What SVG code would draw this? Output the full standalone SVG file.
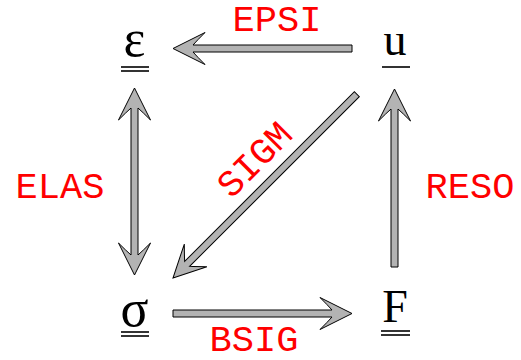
<svg xmlns="http://www.w3.org/2000/svg" width="521" height="360" viewBox="0 0 521 360">
<style>
.arr{fill:#b3b3b3;stroke:#000;stroke-width:1;stroke-linejoin:miter}
.sym{font-family:"Liberation Serif","Times New Roman",serif;font-size:46px;fill:#000;text-anchor:middle}
.grk{font-size:52px}
.ul{stroke:#000;stroke-width:1.6}
.lbl{font-family:"Liberation Mono","Courier New",monospace;font-size:37px;fill:#ff0000;text-anchor:middle}
</style>
<rect width="521" height="360" fill="#fff"/>
<g id="connectors">
  <g id="EPSI">
    <path class="arr" transform="translate(173,48.5) rotate(180)" d="M0,0 L-32,-16 Q-24,-8 -20,-3.5 L-179,-3.5 L-179,3.5 L-20,3.5 Q-24,8 -32,16 Z"/>
    <text class="lbl" x="277" y="31">EPSI</text>
  </g>
  <g id="ELAS">
    <path class="arr" transform="translate(134.5,275) rotate(90)" d="M0,0 L-32,-16 Q-24,-8 -20,-3.5 L-167,-3.5 Q-163,-8 -155,-16 L-187,0 L-155,16 Q-163,8 -167,3.5 L-20,3.5 Q-24,8 -32,16 Z"/>
    <text class="lbl" x="60" y="198">ELAS</text>
  </g>
  <g id="SIGM">
    <path class="arr" transform="translate(173,278) rotate(135)" d="M0,0 L-32,-16 Q-24,-8 -20,-3.5 L-260,-3.5 L-260,3.5 L-20,3.5 Q-24,8 -32,16 Z"/>
    <text class="lbl" transform="translate(263,168) rotate(-45)">SIGM</text>
  </g>
  <g id="RESO">
    <path class="arr" transform="translate(394.5,89) rotate(-90)" d="M0,0 L-32,-16 Q-24,-8 -20,-3.5 L-178,-3.5 L-178,3.5 L-20,3.5 Q-24,8 -32,16 Z"/>
    <text class="lbl" x="470" y="198">RESO</text>
  </g>
  <g id="BSIG">
    <path class="arr" transform="translate(352,313.5)" d="M0,0 L-32,-16 Q-24,-8 -20,-3.5 L-179,-3.5 L-179,3.5 L-20,3.5 Q-24,8 -32,16 Z"/>
    <text class="lbl" x="254" y="351">BSIG</text>
  </g>
</g>
<g id="node-epsilon">
  <text class="sym grk" x="134.5" y="56">ε</text>
  <line class="ul" x1="121" y1="67" x2="149" y2="67"/>
  <line class="ul" x1="121" y1="71" x2="149" y2="71"/>
</g>
<g id="node-u">
  <text class="sym" x="395" y="55">u</text>
  <line class="ul" x1="382" y1="67" x2="410" y2="67"/>
</g>
<g id="node-sigma">
  <text class="sym grk" x="134.5" y="326">σ</text>
  <line class="ul" x1="121" y1="332" x2="149" y2="332"/>
  <line class="ul" x1="121" y1="336" x2="149" y2="336"/>
</g>
<g id="node-F">
  <text class="sym" x="395" y="322">F</text>
  <line class="ul" x1="381" y1="331" x2="410" y2="331"/>
  <line class="ul" x1="381" y1="335" x2="410" y2="335"/>
</g>
</svg>
